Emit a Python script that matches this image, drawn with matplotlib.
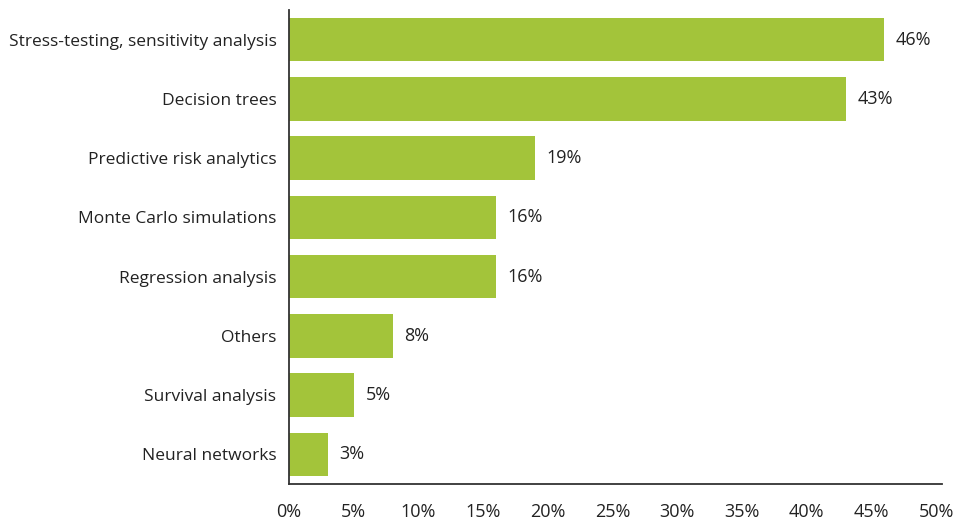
import matplotlib.pyplot as plt

categories = ["Stress-testing, sensitivity analysis", "Decision trees", "Predictive risk analytics",
              "Monte Carlo simulations", "Regression analysis", "Others", "Survival analysis",
              "Neural networks"]
values = [46, 43, 19, 16, 16, 8, 5, 3]
ticks = [0, 5, 10, 15, 20, 25, 30, 35, 40, 45, 50]

plt.rcParams['font.family'] = ['Open Sans', 'DejaVu Sans']

fig = plt.figure(figsize=(9.74, 5.25), dpi=100)
ax = fig.add_axes([289/974, 41/525, (942-289)/974, (515-41)/525])

green = '#a3c43a'
text_col = '#222222'
ax.barh(range(len(values)), values, height=0.73, color=green)
for i, v in enumerate(values):
    ax.text(v + 0.9, i, f"{v}%", va='center', ha='left', fontsize=13, color=text_col)

ax.set_yticks(range(len(categories)))
ax.set_yticklabels(categories, fontsize=12.5, color=text_col)
ax.set_xticks(ticks)
ax.set_xticklabels([f"{t}%" for t in ticks], fontsize=13, color=text_col)
ax.tick_params(length=0)
ax.tick_params(axis='x', pad=14)
ax.tick_params(axis='y', pad=9)

ax.set_xlim(0, 50.45)
ax.set_ylim(7.5, -0.5)
for s in ['top', 'right']:
    ax.spines[s].set_visible(False)
for s in ['left', 'bottom']:
    ax.spines[s].set_color('#333333')
    ax.spines[s].set_linewidth(1.3)

fig.savefig('out.png', dpi=100)
